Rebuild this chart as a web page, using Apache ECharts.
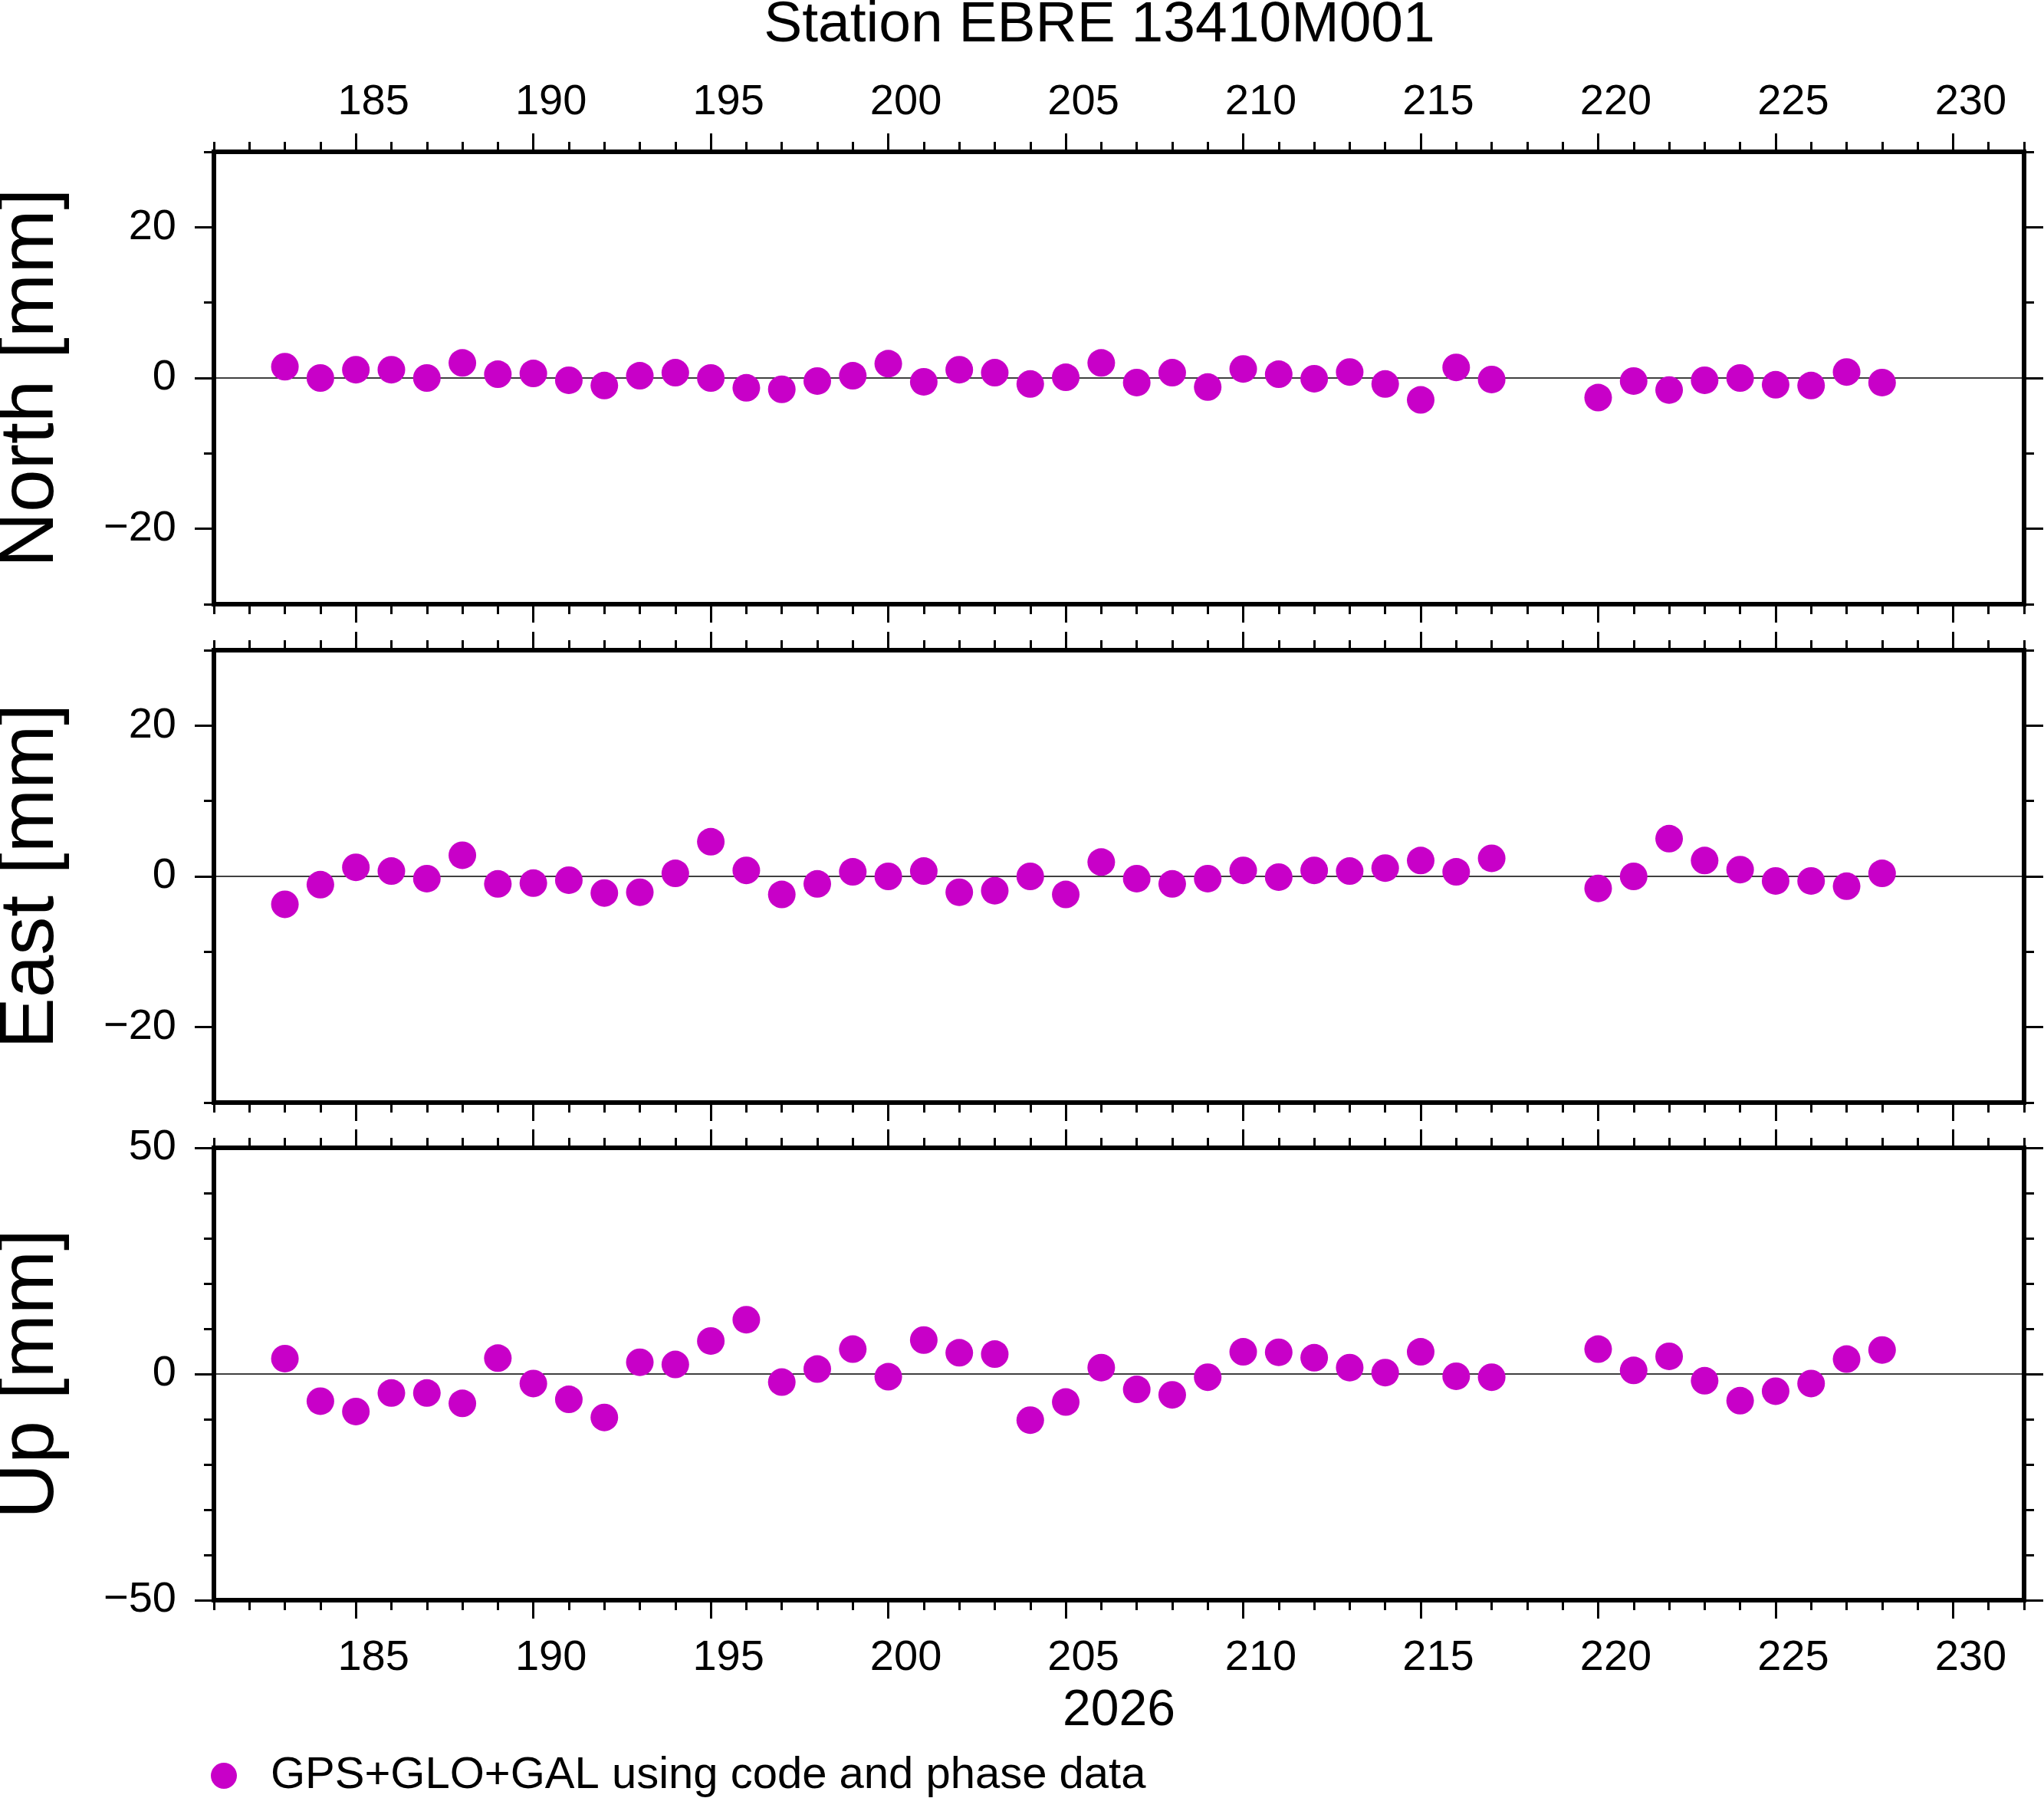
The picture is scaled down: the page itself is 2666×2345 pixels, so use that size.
<!DOCTYPE html>
<html>
<head>
<meta charset="utf-8">
<style>
html,body{margin:0;padding:0;background:#ffffff;}
#chart{width:2666px;height:2345px;}
</style>
<script src="https://cdn.jsdelivr.net/npm/echarts@6/dist/echarts.min.js"></script>
</head>
<body>
<div id="chart"></div>
<script>
// ---------------- data ----------------
const days = [183,184,185,186,187,188,189,190,191,192,193,194,195,196,197,198,199,200,201,202,203,204,205,206,207,208,209,210,211,212,213,214,215,216,217,220,221,222,223,224,225,226,227,228];
const north = [1.5,0.0,1.1,1.1,0.0,2.0,0.5,0.6,-0.3,-1.0,0.3,0.7,0.0,-1.3,-1.5,-0.4,0.3,1.9,-0.5,1.1,0.7,-0.8,0.1,2.0,-0.6,0.7,-1.2,1.2,0.5,-0.1,0.8,-0.8,-2.9,1.4,-0.2,-2.6,-0.4,-1.6,-0.3,0.0,-0.9,-1.0,0.8,-0.6];
const east = [-3.7,-1.1,1.2,0.7,-0.3,2.8,-1.0,-0.9,-0.5,-2.2,-2.1,0.4,4.6,0.8,-2.4,-1.0,0.6,0.0,0.7,-2.1,-1.9,0.0,-2.4,1.9,-0.3,-1.0,-0.3,0.8,-0.1,0.8,0.7,1.1,2.1,0.6,2.4,-1.6,0.0,5.0,2.1,0.9,-0.6,-0.6,-1.3,0.4];
const up = [3.4,-6.0,-8.3,-4.2,-4.2,-6.5,3.5,-2.1,-5.6,-9.6,2.6,2.1,7.3,12.0,-1.8,1.1,5.5,-0.6,7.5,4.7,4.4,-10.2,-6.2,1.4,-3.4,-4.6,-0.7,4.9,4.8,3.6,1.4,0.3,4.9,-0.5,-0.7,5.5,0.8,3.9,-1.5,-5.9,-3.8,-2.1,3.3,5.3];

const xMajorTicks = [185,190,195,200,205,210,215,220,225,230];
const neMajorTicks = [-20,0,20];
const upMajorTicks = [-50,0,50];
const panelNames = ['North [mm]','East [mm]','Up [mm]'];
const titleText = 'Station EBRE 13410M001';
const yearLabel = '2026';
const legendText = 'GPS+GLO+GAL using code and phase data';

// ---------------- layout / style ----------------
const FONT = '"Liberation Sans", Arial, Helvetica, sans-serif';
const GRID_LEFT = 279, GRID_WIDTH = 2361, GRID_H = 590;
const gridTops = [198, 848, 1497];
const X_MIN = 181, X_MAX = 232;
const panels = [
  {values: north, min: -30, max: 30, major: neMajorTicks},
  {values: east,  min: -30, max: 30, major: neMajorTicks},
  {values: up,    min: -50, max: 50, major: upMajorTicks}
];
const tickStyle = {color: '#000', width: 3};
const frameStyle = {color: '#000', width: 6, cap: 'square'};

const grids = [], xAxes = [], yAxes = [], series = [];

panels.forEach((p, g) => {
  grids.push({
    left: GRID_LEFT, top: gridTops[g], width: GRID_WIDTH, height: GRID_H,
    show: false, containLabel: false, outerBoundsMode: 'none'
  });
  // x axes: bottom minor, bottom major, top minor, top major
  ['bottom', 'top'].forEach(pos => {
    xAxes.push({
      type: 'value', gridIndex: g, position: pos, min: X_MIN, max: X_MAX, interval: 1,
      axisLine: {show: false, onZero: false},
      axisTick: {show: true, inside: false, length: 13, lineStyle: tickStyle},
      axisLabel: {show: false}, splitLine: {show: false}
    });
    const showLbl = (pos === 'top' && g === 0) || (pos === 'bottom' && g === 2);
    const ax = {
      type: 'value', gridIndex: g, position: pos, min: X_MIN, max: X_MAX, interval: 1,
      axisLine: {show: true, onZero: false, lineStyle: frameStyle},
      axisTick: {show: true, inside: false, length: 24, customValues: xMajorTicks, lineStyle: tickStyle},
      axisLabel: {
        show: showLbl, customValues: xMajorTicks, margin: pos === 'top' ? 36 : 48,
        fontSize: 56, fontFamily: FONT, color: '#000', padding: [0, 0, 0, 46]
      },
      splitLine: {show: false}
    };
    if (pos === 'bottom' && g === 2) {
      ax.name = yearLabel;
      ax.nameLocation = 'middle';
      ax.nameGap = 112;
      ax.nameTextStyle = {fontSize: 66, fontFamily: FONT, color: '#000'};
    }
    xAxes.push(ax);
  });
  // y axes: left minor, left major, right minor, right major
  ['left', 'right'].forEach(pos => {
    yAxes.push({
      type: 'value', gridIndex: g, position: pos, min: p.min, max: p.max, interval: 10,
      axisLine: {show: false, onZero: false},
      axisTick: {show: true, inside: false, length: 13, lineStyle: tickStyle},
      axisLabel: {show: false}, splitLine: {show: false}
    });
    const ay = {
      type: 'value', gridIndex: g, position: pos, min: p.min, max: p.max, interval: 10,
      axisLine: {show: true, onZero: false, lineStyle: frameStyle},
      axisTick: {show: true, inside: false, length: 25, customValues: p.major, lineStyle: tickStyle},
      axisLabel: {
        show: pos === 'left', customValues: p.major, margin: 49,
        fontSize: 56, fontFamily: FONT, color: '#000',
        formatter: v => (v < 0 ? '\u2212' + Math.abs(v) : String(v))
      },
      splitLine: {show: false}
    };
    if (pos === 'left') {
      ay.name = panelNames[g];
      ay.nameLocation = 'middle';
      ay.nameGap = 188;
      ay.nameTextStyle = {fontSize: 100, fontFamily: FONT, color: '#000'};
    }
    yAxes.push(ay);
  });

  series.push({
    name: legendText,
    type: 'scatter',
    xAxisIndex: g * 4 + 1,
    yAxisIndex: g * 4 + 1,
    symbol: 'circle',
    symbolSize: 36,
    itemStyle: {color: '#c800c8', opacity: 1},
    data: days.map((d, i) => [d, p.values[i]]),
    z: 3,
    markLine: {
      silent: true, symbol: 'none', z: 1, animation: false,
      label: {show: false},
      lineStyle: {color: '#000', width: 1.5, type: 'solid'},
      data: [{yAxis: 0}]
    }
  });
});

const chart = echarts.init(document.getElementById('chart'), null, {renderer: 'canvas'});
chart.setOption({
  backgroundColor: '#ffffff',
  animation: false,
  grid: grids,
  xAxis: xAxes,
  yAxis: yAxes,
  series: series,
  legend: {
    show: true, data: [legendText], left: 275, top: 2287, padding: 0,
    icon: 'circle', itemWidth: 112, itemHeight: 34, selectedMode: false,
    itemStyle: {opacity: 1},
    textStyle: {fontSize: 58, fontFamily: FONT, color: '#000'}
  },
  graphic: [
    {
      type: 'text', x: 1434, y: 33,
      style: {
        text: titleText, fontSize: 75, fontFamily: FONT, fill: '#000',
        textAlign: 'center', textVerticalAlign: 'middle', align: 'center', verticalAlign: 'middle'
      }
    }
  ]
});
</script>
</body>
</html>
